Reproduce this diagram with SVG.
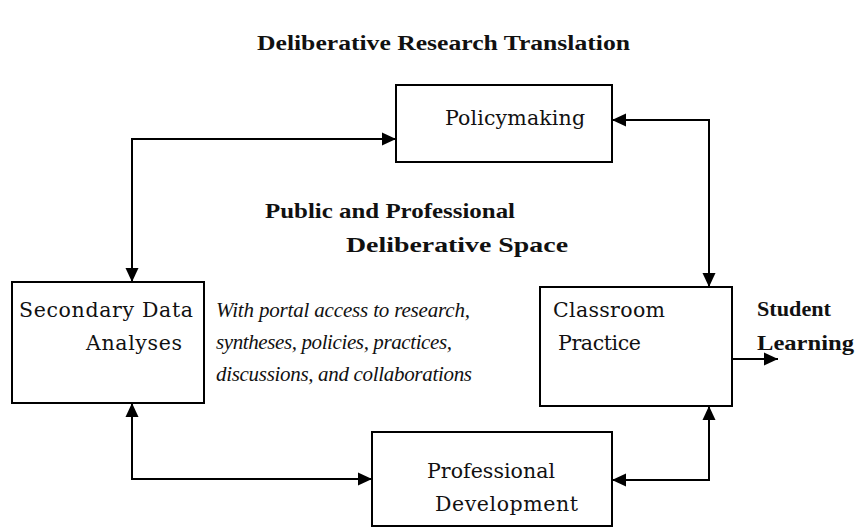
<svg xmlns="http://www.w3.org/2000/svg" width="858" height="527" viewBox="0 0 858 527">
<defs>
<style>
.box{fill:#fff;stroke:#000;stroke-width:2}
.t{font-family:"DejaVu Serif","Liberation Serif",serif;font-size:20.5px;fill:#111}
.b{font-family:"Liberation Serif","Times New Roman",serif;font-weight:bold;font-size:21px}
.i{font-family:"Liberation Serif","Times New Roman",serif;font-style:italic;font-size:21px}
.c{fill:none;stroke:#000;stroke-width:2}
</style>
<marker id="ah" markerUnits="userSpaceOnUse" markerWidth="15" markerHeight="14" refX="14" refY="7" orient="auto-start-reverse">
<path d="M0,0.5 L14,7 L0,13.5 z" fill="#000"/>
</marker>
</defs>
<rect width="858" height="527" fill="#fff"/>
<text class="t b" x="257" y="50" textLength="373" lengthAdjust="spacingAndGlyphs" style="font-size:20px">Deliberative Research Translation</text>
<g id="connectors">
<path class="c" d="M396,139 H132 V282" marker-start="url(#ah)" marker-end="url(#ah)"/>
<path class="c" d="M612,120 H709 V287" marker-start="url(#ah)" marker-end="url(#ah)"/>
<path class="c" d="M132,403 V479 H372" marker-start="url(#ah)" marker-end="url(#ah)"/>
<path class="c" d="M709,406 V480 H612" marker-start="url(#ah)" marker-end="url(#ah)"/>
<path class="c" d="M732,359 H778" marker-end="url(#ah)"/>
</g>
<g id="policymaking">
<rect class="box" x="396" y="85" width="216" height="77"/>
<text class="t" x="445" y="125" textLength="140" lengthAdjust="spacing">Policymaking</text>
</g>
<g id="secondary">
<rect class="box" x="12" y="282" width="192" height="121"/>
<text class="t" x="19" y="317" textLength="174" lengthAdjust="spacing">Secondary Data</text>
<text class="t" x="86" y="350" textLength="96" lengthAdjust="spacing">Analyses</text>
</g>
<g id="classroom">
<rect class="box" x="540" y="287" width="192" height="119"/>
<text class="t" x="553" y="317" textLength="112" lengthAdjust="spacing">Classroom</text>
<text class="t" x="558" y="350" textLength="83" lengthAdjust="spacing">Practice</text>
</g>
<g id="pd">
<rect class="box" x="372" y="432" width="240" height="94"/>
<text class="t" x="427" y="478" textLength="128" lengthAdjust="spacing">Professional</text>
<text class="t" x="435" y="511" textLength="143" lengthAdjust="spacing">Development</text>
</g>
<g id="labels">
<text class="t b" x="265" y="218" textLength="250" lengthAdjust="spacingAndGlyphs">Public and Professional</text>
<text class="t b" x="346" y="252" textLength="222" lengthAdjust="spacingAndGlyphs">Deliberative Space</text>
<text class="t i" x="216" y="317" textLength="254" lengthAdjust="spacing">With portal access to research,</text>
<text class="t i" x="216" y="349" textLength="236" lengthAdjust="spacing">syntheses, policies, practices,</text>
<text class="t i" x="216" y="381" textLength="256" lengthAdjust="spacing">discussions, and collaborations</text>
<text class="t b" x="757" y="316" textLength="74" lengthAdjust="spacingAndGlyphs">Student</text>
<text class="t b" x="757" y="350" textLength="97" lengthAdjust="spacingAndGlyphs">Learning</text>
</g>
</svg>
